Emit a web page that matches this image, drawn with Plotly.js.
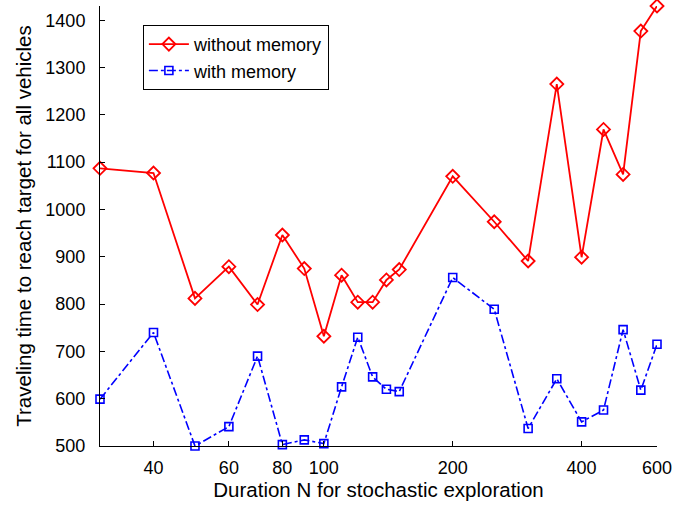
<!DOCTYPE html>
<html>
<head>
<meta charset="utf-8">
<script src="https://cdn.plot.ly/plotly-3.0.1.min.js"></script>
<style>html,body{margin:0;padding:0;background:#fff;}#chart{width:691px;height:506px;}</style>
</head>
<body>
<div id="chart"></div>
<script>
const durationN = [30, 40, 50, 60, 70, 80, 90, 100, 110, 120, 130, 140, 150, 200, 250, 300, 350, 400, 450, 500, 550, 600];
const withoutMemory = [1087, 1077, 812, 879, 799, 946, 875, 732, 861, 804, 804, 851, 873, 1070, 974, 891, 1265, 899, 1169, 1074, 1377, 1430];
const withMemory = [599, 740, 500, 541, 690, 503, 513, 505, 625, 730, 646, 620, 615, 856, 789, 537, 642, 551, 576, 746, 618, 715];
const xTickVals = [40, 60, 80, 100, 200, 400, 600];
const yTickVals = [500, 600, 700, 800, 900, 1000, 1100, 1200, 1300, 1400];

const font = {family: 'Liberation Sans, Arial, sans-serif', color: '#000'};

const traces = [
  {
    x: durationN, y: withoutMemory, name: 'without memory', type: 'scatter', mode: 'lines+markers',
    cliponaxis: false,
    line: {color: '#ff0000', width: 1.8},
    marker: {symbol: 'diamond-open', size: 10, color: '#ff0000', line: {width: 1.8, color: '#ff0000'}}
  },
  {
    x: durationN, y: withMemory, name: 'with memory', type: 'scatter', mode: 'lines+markers',
    cliponaxis: false,
    line: {color: '#0000ff', width: 1.6, dash: 'dashdot'},
    marker: {symbol: 'square-open', size: 8, color: '#0000ff', line: {width: 1.6, color: '#0000ff'}}
  }
];

const layout = {
  width: 691, height: 506,
  margin: {l: 100, r: 34, t: 6, b: 60},
  paper_bgcolor: '#fff', plot_bgcolor: '#fff',
  font: Object.assign({size: 18}, font),
  showlegend: true,
  legend: {
    x: 0.077, y: 0.957, xanchor: 'left', yanchor: 'top',
    bordercolor: '#000', borderwidth: 1, bgcolor: '#fff',
    font: Object.assign({size: 18}, font),
    tracegroupgap: 0, itemwidth: 40
  },
  xaxis: {
    type: 'log', range: [Math.log10(30), Math.log10(600)],
    tickvals: xTickVals, ticktext: xTickVals.map(String),
    ticks: 'inside', ticklen: 5, tickcolor: '#000', tickwidth: 1,
    showline: true, linecolor: '#000', linewidth: 1, mirror: false,
    showgrid: false, zeroline: false,
    tickfont: Object.assign({size: 18}, font),
    ticklabelstandoff: 5,
    title: {text: 'Duration N for stochastic exploration', font: Object.assign({size: 20.5}, font), standoff: 4}
  },
  yaxis: {
    range: [500, 1430],
    tickvals: yTickVals,
    ticks: 'inside', ticklen: 5, tickcolor: '#000', tickwidth: 1,
    showline: true, linecolor: '#000', linewidth: 1, mirror: false,
    showgrid: false, zeroline: false,
    tickfont: Object.assign({size: 18}, font),
    ticklabelstandoff: 10,
    title: {text: 'Traveling time to reach target for all vehicles', font: Object.assign({size: 20.5}, font), standoff: 8}
  }
};

Plotly.newPlot('chart', traces, layout, {displayModeBar: false, staticPlot: true});
</script>
</body>
</html>
